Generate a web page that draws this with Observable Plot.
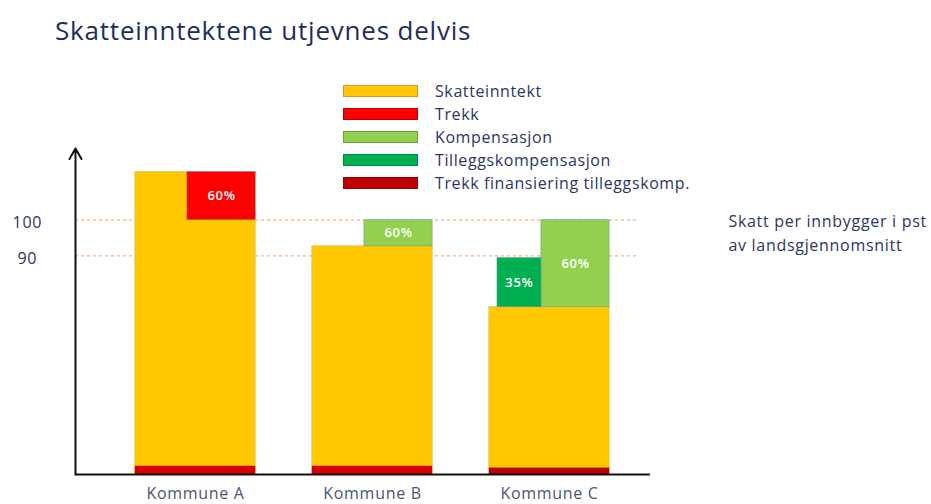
<!DOCTYPE html>
<html>
<head>
<meta charset="utf-8">
<script src="https://cdn.jsdelivr.net/npm/d3@7"></script>
<script src="https://cdn.jsdelivr.net/npm/@observablehq/plot@0.6"></script>
<style>
  html, body { margin: 0; padding: 0; background: #fff; }
  #wrap { position: relative; width: 931px; height: 504px; overflow: hidden; font-family: "Open Sans", sans-serif; }
  #title { position: absolute; left: 55px; top: 12px; font-size: 26px; letter-spacing: 0.8px; color: #1f2d5c; white-space: nowrap; }
  #chart { position: absolute; left: 0; top: 60px; }
  #chart svg text { letter-spacing: 0.7px; }
  #legend { position: absolute; left: 343px; top: 79px; }
  .row { display: flex; align-items: center; height: 23px; }
  .sw { width: 75px; height: 12px; box-sizing: border-box; border: 1px solid; }
  .lb { margin-left: 17px; font-size: 16px; letter-spacing: 0.6px; color: #2b3664; white-space: nowrap; }
</style>
</head>
<body>
<div id="wrap">
  <div id="title"></div>
  <div id="chart"></div>
  <div id="legend"></div>
</div>
<script>
// ---- data ----
const kommuner = ["Kommune A", "Kommune B", "Kommune C"];
const skatt = [113.4, 92.7, 75.7];            // Skatteinntekt (top of yellow bar)
const trekk = [13.4, 0, 0];                   // Trekk above the average
const kompensasjon = [0, 7.3, 24.3];          // Kompensasjon up to average
const tilleggskomp = [0, 0, 13.7];            // Tilleggskompensasjon
const trekkFin = [2.3, 2.3, 1.8];             // Trekk finansiering tilleggskomp.
const trekkLabel = ["60%", "", ""];
const kompLabel = ["", "60%", "60%"];
const tilleggLabel = ["", "", "35%"];
const average = 100;
const refLines = [100, 90];
const yFloor = 29;
const yTop = 120;
const seriesNames = ["Skatteinntekt", "Trekk", "Kompensasjon", "Tilleggskompensasjon", "Trekk finansiering tilleggskomp."];
const seriesColors = ["#ffc800", "#ff0000", "#92d050", "#00b050", "#c00000"];
const seriesBorders = ["#e0913a", "#c00000", "#6f9f3a", "#008a40", "#900000"];
const titleText = "Skatteinntektene utjevnes delvis";
const noteText = "Skatt per innbygger i pst\nav landsgjennomsnitt";

// ---- layout constants (index units of the x scale) ----
const half = 0.34, split = -0.046, tillLeft = -0.294;
const axisX = -0.678, tickX = -0.95, dashEnd = 2.497, baseEnd = 2.57, noteX = 3.011;

const idx = kommuner.map((_, i) => i);
const yellow = idx.map(i => ({x1: i - half, x2: i + half, y1: yFloor, y2: skatt[i]}));
const red = idx.filter(i => trekk[i] > 0).map(i => ({x1: i + split, x2: i + half, y1: average, y2: average + trekk[i], label: trekkLabel[i]}));
const komp = idx.filter(i => kompensasjon[i] > 0).map(i => ({x1: i + split, x2: i + half, y1: skatt[i], y2: skatt[i] + kompensasjon[i], label: kompLabel[i]}));
const till = idx.filter(i => tilleggskomp[i] > 0).map(i => ({x1: i + tillLeft, x2: i + split, y1: skatt[i], y2: skatt[i] + tilleggskomp[i], label: tilleggLabel[i]}));
const fin = idx.map(i => ({x1: i - half, x2: i + half, y1: yFloor, y2: yFloor + trekkFin[i]}));
const segLabels = [...red, ...komp, ...till].filter(d => d.label).map(d => ({x: (d.x1 + d.x2) / 2, y: (d.y1 + d.y2) / 2, label: d.label}));

const edge = {stroke: "#5a7aa6", strokeWidth: 0.7, strokeOpacity: 0.55};

const plot = Plot.plot({
  width: 931,
  height: 444,
  margin: 0,
  style: {fontFamily: "Open Sans, sans-serif", fontSize: "16px", background: "transparent", overflow: "visible"},
  x: {type: "linear", domain: [0, 2], range: [195, 549], axis: null},
  y: {type: "linear", domain: [yFloor, yTop], range: [414, 88], axis: null},
  marks: [
    Plot.ruleY(refLines, {y: d => d, x1: axisX, x2: dashEnd, stroke: "#f4b183", strokeWidth: 1.2, strokeDasharray: "3,3"}),
    Plot.rect(yellow, {x1: "x1", x2: "x2", y1: "y1", y2: "y2", fill: seriesColors[0], stroke: "#c9b060", strokeWidth: 0.5}),
    Plot.rect(red, {x1: "x1", x2: "x2", y1: "y1", y2: "y2", fill: seriesColors[1], ...edge}),
    Plot.rect(komp, {x1: "x1", x2: "x2", y1: "y1", y2: "y2", fill: seriesColors[2], ...edge}),
    Plot.rect(till, {x1: "x1", x2: "x2", y1: "y1", y2: "y2", fill: seriesColors[3], ...edge}),
    Plot.rect(fin, {x1: "x1", x2: "x2", y1: "y1", y2: "y2", fill: (d, i) => i === 2 ? "#b80000" : "#d40000"}),
    Plot.text(segLabels, {x: "x", y: "y", text: "label", fill: "white", fontSize: 13, fontWeight: 600}),
    Plot.ruleY([yFloor], {x1: axisX, x2: baseEnd, stroke: "#111", strokeWidth: 2}),
    Plot.arrow([{x: axisX}], {x1: "x", x2: "x", y1: yFloor, y2: yTop, stroke: "#111", strokeWidth: 2, headLength: 9, bend: 0}),
    Plot.text(refLines, {x: tickX, y: d => d, dy: 3, text: d => String(d), fill: "#2b3664", fontSize: 16}),
    Plot.text(kommuner, {x: (d, i) => i, y: yFloor, dy: 19, text: d => d, fill: "#4a5577", fontSize: 16}),
    Plot.text([noteText], {x: noteX, y: 96.8, text: d => d, textAnchor: "start", lineHeight: 1.45, fill: "#2b3664", fontSize: 16})
  ]
});
document.getElementById("chart").appendChild(plot);
document.getElementById("title").textContent = titleText;

const legend = document.getElementById("legend");
seriesNames.forEach((name, i) => {
  const row = document.createElement("div");
  row.className = "row";
  const sw = document.createElement("div");
  sw.className = "sw";
  sw.style.background = seriesColors[i];
  sw.style.borderColor = seriesBorders[i];
  const lb = document.createElement("div");
  lb.className = "lb";
  lb.textContent = name;
  row.appendChild(sw);
  row.appendChild(lb);
  legend.appendChild(row);
});
</script>
</body>
</html>
